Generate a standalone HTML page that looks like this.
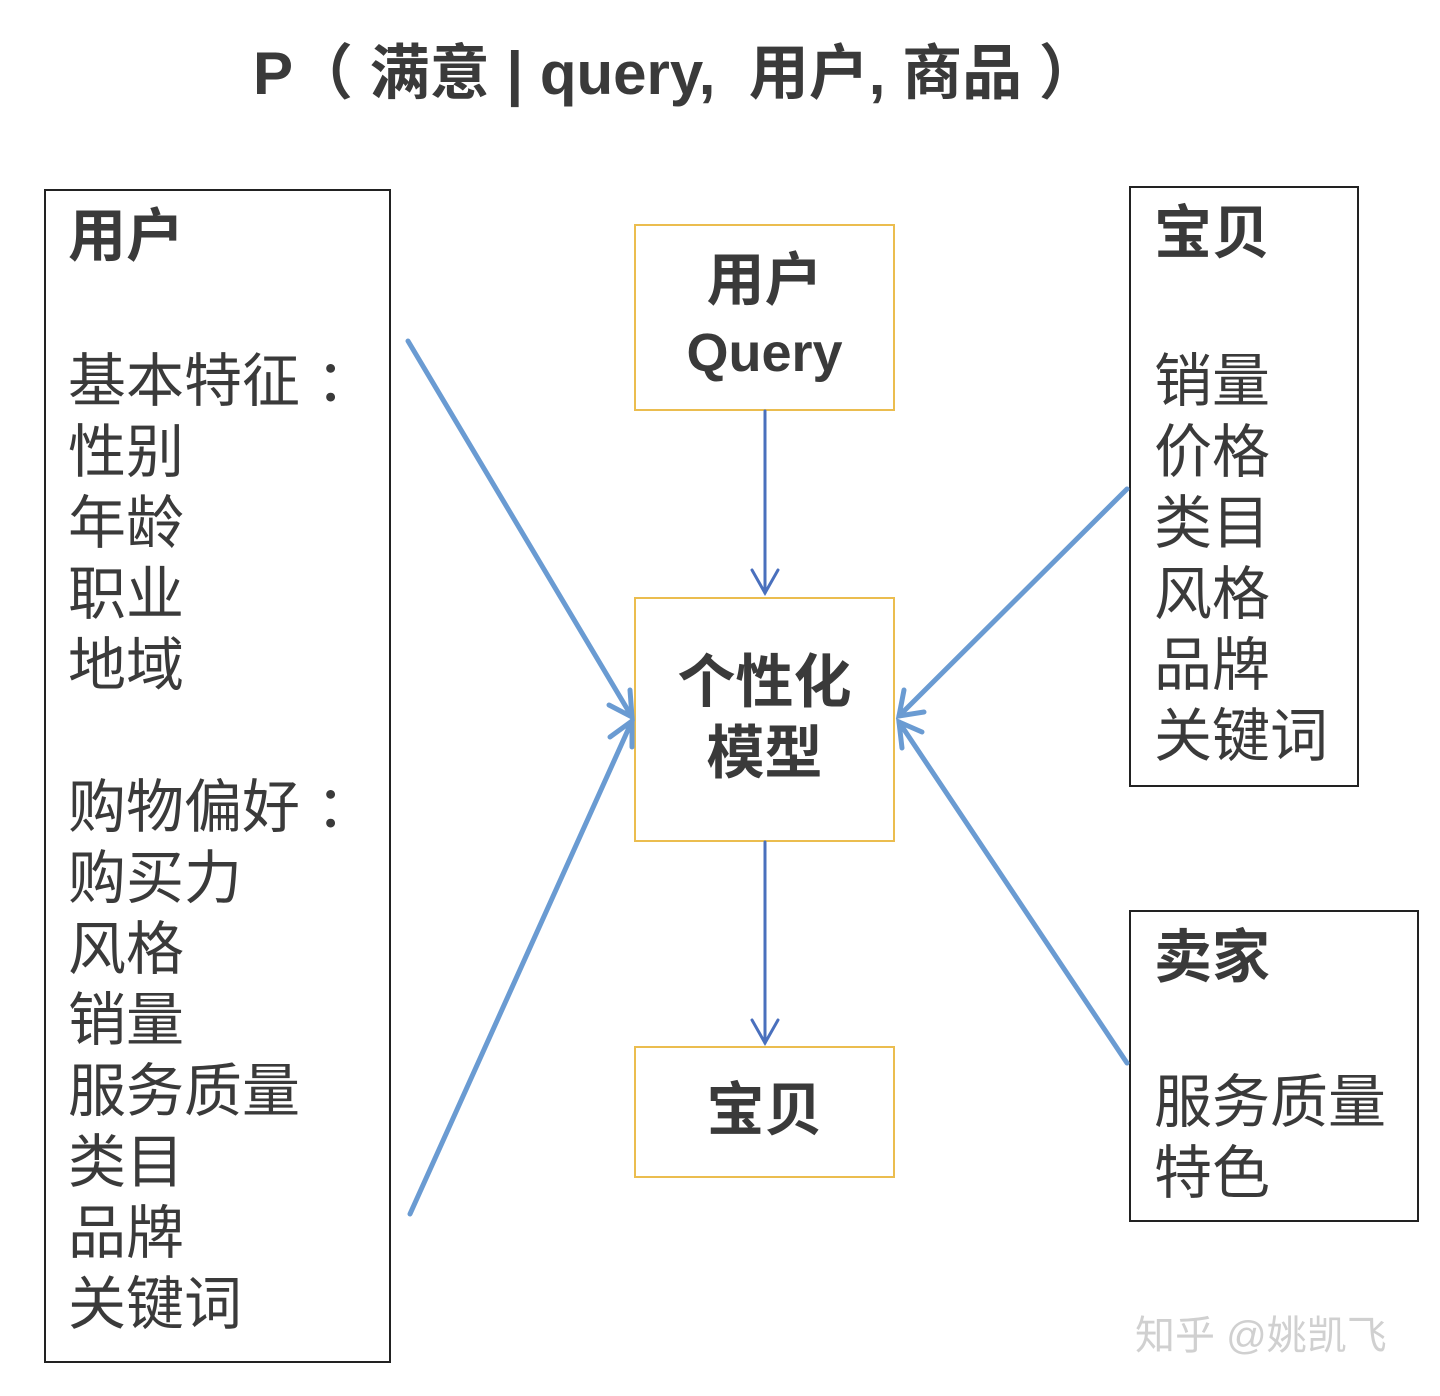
<!DOCTYPE html>
<html><head><meta charset="utf-8"><style>
body{margin:0;width:1440px;height:1396px;background:#fff;position:relative;overflow:hidden;font-family:"Liberation Sans","Noto Sans CJK SC",sans-serif;color:#3a3a3a}
.t{position:absolute;white-space:nowrap;line-height:1}
.box{position:absolute;box-sizing:border-box}
.k{border:2px solid #222}
.y{border:2px solid #ebbd4f}
.b{font-weight:bold}
.f{font-size:58px}
</style></head><body>
<div class="t b" style="left:253px;top:44px;font-size:60px">P（ 满意 | query,&nbsp; 用户, 商品 ）</div>

<div class="box k" style="left:44px;top:189px;width:347px;height:1174px"></div>
<div class="t b f" style="left:68px;top:208px">用户</div>
<div class="t f" style="left:68px;top:346px;line-height:71px;white-space:pre">基本特征 ：
性别
年龄
职业
地域

购物偏好 ：
购买力
风格
销量
服务质量
类目
品牌
关键词</div>

<div class="box k" style="left:1129px;top:186px;width:230px;height:601px"></div>
<div class="t b f" style="left:1154px;top:205px">宝贝</div>
<div class="t f" style="left:1154px;top:346px;line-height:71px;white-space:pre">销量
价格
类目
风格
品牌
关键词</div>

<div class="box k" style="left:1129px;top:910px;width:290px;height:312px"></div>
<div class="t b f" style="left:1154px;top:929px">卖家</div>
<div class="t f" style="left:1154px;top:1067px;line-height:71px;white-space:pre">服务质量
特色</div>

<div class="box y" style="left:634px;top:224px;width:261px;height:187px"></div>
<div class="t b f" style="left:634px;width:261px;text-align:center;top:252px">用户</div>
<div class="t" style="left:634px;width:261px;text-align:center;top:326px;font-size:54px;font-weight:bold">Query</div>

<div class="box y" style="left:634px;top:597px;width:261px;height:245px"></div>
<div class="t b f" style="left:634px;width:261px;text-align:center;top:654px">个性化</div>
<div class="t b f" style="left:634px;width:261px;text-align:center;top:725px">模型</div>

<div class="box y" style="left:634px;top:1046px;width:261px;height:132px"></div>
<div class="t b f" style="left:634px;width:261px;text-align:center;top:1082px">宝贝</div>

<div class="t" style="left:1135px;top:1316px;font-size:40px;color:#d0d0d0">知乎 @姚凯飞</div>

<svg width="1440" height="1396" style="position:absolute;left:0;top:0">
<g stroke="#4a70bd" stroke-width="3" fill="none" stroke-linecap="round">
<line x1="765" y1="411" x2="765" y2="593"/><polyline points="752,570 765,593 778,570"/>
<line x1="765" y1="842" x2="765" y2="1043"/><polyline points="752,1020 765,1043 778,1020"/>
</g>
<g stroke="#6a9bd2" stroke-width="5" fill="none" stroke-linecap="round">
<line x1="408" y1="341" x2="632" y2="717"/><polyline points="609,705 632,717 630,690"/>
<line x1="410" y1="1214" x2="632" y2="721"/><polyline points="610,737 632,721 632,747"/>
<line x1="1127" y1="489" x2="899" y2="716"/><polyline points="904,690 899,716 924,712"/>
<line x1="1127" y1="1063" x2="899" y2="722"/><polyline points="922,732 899,722 902,748"/>
</g>
</svg>
</body></html>
